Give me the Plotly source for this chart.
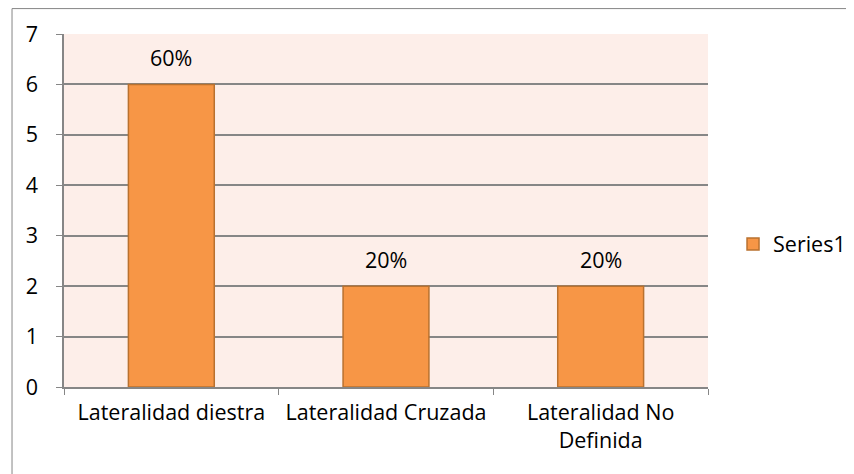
import plotly.graph_objects as go

categories = ["Lateralidad diestra", "Lateralidad Cruzada", "Lateralidad No<br>Definida"]
values = [6, 2, 2]
labels = ["60%", "20%", "20%"]
series_name = "Series1"

FONT = "Open Sans, Noto Sans, sans-serif"
FS = 21.5

fig = go.Figure()
fig.add_trace(go.Bar(
    x=categories, y=values, name=series_name,
    marker=dict(color="#F79646", line=dict(color="#B9712F", width=1.5)),
))
for c, v, t in zip(categories, values, labels):
    fig.add_annotation(x=c, y=v, text=t, showarrow=False, yanchor="bottom",
                       yshift=10, font=dict(size=FS, color="#000000", family=FONT))

# page body has an 8px margin; figure sized to fit inside the window
fig.update_layout(
    width=846, height=466,
    margin=dict(l=56, r=146, t=26, b=87, autoexpand=False),
    paper_bgcolor="white",
    plot_bgcolor="#FDEEE9",
    font=dict(family=FONT, size=FS, color="#000000"),
    bargap=0.6,
    showlegend=True,
    legend=dict(xref="container", x=0.857, y=0.405, xanchor="left", yanchor="middle",
                font=dict(size=FS), itemwidth=30, bgcolor="rgba(0,0,0,0)"),
    xaxis=dict(showline=True, linecolor="#868686", linewidth=1.5,
               ticks="outside", tickson="boundaries", ticklen=6, tickcolor="#868686",
               showgrid=False, tickfont=dict(size=FS), ticklabelstandoff=5),
    yaxis=dict(range=[0, 7], dtick=1, showline=True, linecolor="#868686", linewidth=1.5,
               ticks="outside", ticklen=6, tickcolor="#868686",
               gridcolor="#868686", gridwidth=1.5, zeroline=False,
               tickfont=dict(size=FS), ticklabelstandoff=14),
    shapes=[dict(type="rect", xref="paper", yref="paper",
                 x0=-0.0807, x1=1.5, y0=-0.5, y1=1.072,
                 line=dict(color="#868686", width=1), fillcolor="rgba(0,0,0,0)", layer="below")],
)

fig.write_html("out.html")
